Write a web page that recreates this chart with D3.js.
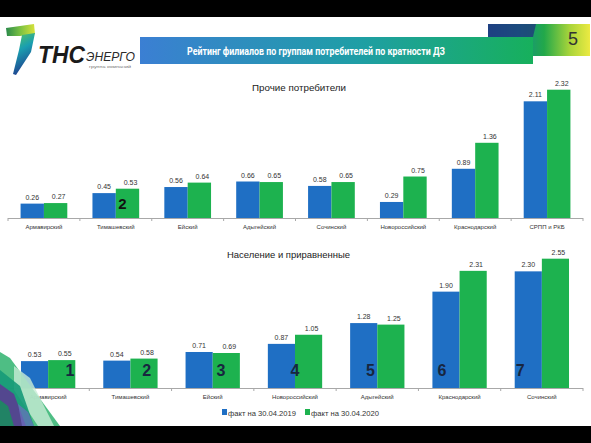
<!DOCTYPE html>
<html><head><meta charset="utf-8">
<script src="https://cdn.jsdelivr.net/npm/d3@7"></script>
<style>html,body{margin:0;padding:0;background:#fff;}svg{display:block;}</style>
</head><body>
<script>
// ---- data ----
const seriesNames = ["факт на 30.04.2019", "факт на 30.04.2020"];
const otherCategories = ["Армавирский","Тимашевский","Ейский","Адыгейский","Сочинский","Новороссийский","Краснодарский","СРПП и РКБ"];
const other2019 = [0.26,0.45,0.56,0.66,0.58,0.29,0.89,2.11];
const other2020 = [0.27,0.53,0.64,0.65,0.65,0.75,1.36,2.32];
const popCategories = ["Армавирский","Тимашевский","Ейский","Новороссийский","Адыгейский","Краснодарский","Сочинский"];
const pop2019 = [0.53,0.54,0.71,0.87,1.28,1.90,2.30];
const pop2020 = [0.55,0.58,0.69,1.05,1.25,2.31,2.55];
const popRanks = [1,2,3,4,5,6,7];
const otherRankLabel = {cat:"Тимашевский", rank:2};
const titleText = "Рейтинг филиалов по группам потребителей по кратности ДЗ";
const pageNumber = "5";

const W=591,H=443;
const BLUE="#1f6fc4", GREEN="#1db24f";
const svg=d3.select("body").append("svg").attr("width",W).attr("height",H);
const defs=svg.append("defs");
function grad(id,stops,x2=1,y2=0){const g=defs.append("linearGradient").attr("id",id).attr("x1",0).attr("y1",0).attr("x2",x2).attr("y2",y2);
 stops.forEach(s=>g.append("stop").attr("offset",s[0]).attr("stop-color",s[1]));}
grad("banner",[[0,"#3b7fd3"],[0.55,"#1f9ea6"],[1,"#17b05c"]]);
grad("corner",[[0,"#1a5aa0"],[0.3,"#12918a"],[0.55,"#22a84a"],[0.8,"#a8d43a"],[1,"#ecea42"]]);
grad("logoTop",[[0,"#2a8a4a"],[0.5,"#7cc242"],[1,"#d8e23a"]]);
grad("logoLeg",[[0,"#5cc65a"],[0.45,"#1a9fb0"],[1,"#1f3f8f"]],0.3,1);

svg.append("rect").attr("width",W).attr("height",H).attr("fill","#fff");

// ---- header ----
svg.append("polygon").attr("points","6,28 34,24 35,34 20,36 7,36").attr("fill","url(#logoTop)");
svg.append("polygon").attr("points","22,35 35,33 31,52 16,75 13,74 19,50").attr("fill","url(#logoLeg)");
svg.append("text").attr("x",38).attr("y",63).attr("font-family","Liberation Sans, Arial").attr("font-weight","bold").attr("font-style","italic")
 .attr("font-size",23).attr("fill","#1a1a1a").attr("textLength",47).attr("lengthAdjust","spacingAndGlyphs").text("ТНС");
svg.append("text").attr("x",86).attr("y",61).attr("font-family","Liberation Sans, Arial").attr("font-style","italic")
 .attr("font-size",12).attr("fill","#2a2a2a").attr("textLength",49).attr("lengthAdjust","spacingAndGlyphs").text("ЭНЕРГО");
svg.append("text").attr("x",89).attr("y",68).attr("font-family","Liberation Sans, Arial")
 .attr("font-size",3.5).attr("fill","#777").attr("textLength",42).attr("lengthAdjust","spacingAndGlyphs").text("группа компаний");

svg.append("polygon").attr("points","488,24 590,24 590,56 488,56").attr("fill","url(#corner)");
svg.append("polygon").attr("points","488,24 536,24 533,37 488,37").attr("fill","#1f3a7a").attr("opacity",0.8);
svg.append("text").attr("x",573).attr("y",45).attr("text-anchor","middle").attr("font-family","Liberation Sans Narrow, Liberation Sans, Arial")
 .attr("font-size",18).attr("fill","#333").text(pageNumber);
svg.append("rect").attr("x",140).attr("y",37).attr("width",393).attr("height",27).attr("fill","url(#banner)");
svg.append("text").attr("x",187).attr("y",55).attr("font-family","Liberation Sans Narrow, Roboto, Arial").attr("font-weight","bold")
 .attr("font-size",11.5).attr("fill","#fff").attr("textLength",258).attr("lengthAdjust","spacingAndGlyphs").text(titleText);

// ---- grouped bar chart helper ----
function drawChart(o){
 const g=svg.append("g");
 const x0=d3.scaleBand().domain(o.cats).range(o.xr).paddingInner(o.pi).paddingOuter(o.pi/2);
 const x1=d3.scaleBand().domain(seriesNames).range([0,x0.bandwidth()]);
 const y=d3.scaleLinear().domain(o.yd).range(o.yr);
 const rows=o.cats.map((c,i)=>({c,v:[o.a[i],o.b[i]]}));
 const grp=g.selectAll("g.c").data(rows).join("g").attr("transform",d=>`translate(${x0(d.c)},0)`);
 grp.selectAll("rect").data(d=>d.v.map((v,j)=>({s:seriesNames[j],v,j}))).join("rect")
  .attr("x",d=>x1(d.s)).attr("width",x1.bandwidth()).attr("y",d=>y(d.v)).attr("height",d=>y(0)-y(d.v))
  .attr("fill",d=>d.j?GREEN:BLUE);
 grp.selectAll("text.v").data(d=>d.v.map((v,j)=>({s:seriesNames[j],v,j}))).join("text").attr("class","v")
  .attr("x",d=>x1(d.s)+x1.bandwidth()/2+(d.j?3:0)).attr("y",d=>y(d.v)-4).attr("text-anchor","middle")
  .attr("font-family","Liberation Sans, Arial").attr("font-size",7).attr("fill","#333").text(d=>d.v.toFixed(2));
 const base=y(0);
 g.append("line").attr("x1",o.xr[0]).attr("x2",o.xr[1]).attr("y1",base+0.5).attr("y2",base+0.5).attr("stroke","#a8a8a8");
 const step=x0.step();
 const bounds=d3.range(o.cats.length+1).map(i=>o.xr[0]+i*step);
 g.selectAll("line.t").data(bounds).join("line").attr("x1",d=>d).attr("x2",d=>d).attr("y1",base).attr("y2",base+3).attr("stroke","#a8a8a8");
 g.selectAll("text.c").data(o.cats).join("text").attr("x",d=>x0(d)+x0.bandwidth()/2).attr("y",base+11).attr("text-anchor","middle")
  .attr("font-family","Liberation Sans, Arial").attr("font-size",6).attr("fill","#333").text(d=>d);
 g.append("text").attr("x",o.tx).attr("y",o.ty).attr("font-family","Liberation Sans, Arial").attr("font-size",9.5).attr("fill","#222")
  .attr("textLength",o.tl).attr("lengthAdjust","spacingAndGlyphs").text(o.title);
 return {x0,x1,y};
}

const chartTop=drawChart({cats:otherCategories,a:other2019,b:other2020,xr:[8,583],pi:0.35,yd:[0,2.5],yr:[218,79.75],
 tx:252,ty:91,tl:94,title:"Прочие потребители"});
const chartBot=drawChart({cats:popCategories,a:pop2019,b:pop2020,xr:[7,583],pi:0.34,yd:[0,2.8],yr:[388,246],
 tx:227,ty:258,tl:123,title:"Население и приравненные"});

svg.append("text").attr("x",chartTop.x0(otherRankLabel.cat)+chartTop.x1(seriesNames[1])+chartTop.x1.bandwidth()/2-5).attr("y",209)
 .attr("text-anchor","middle").attr("font-family","Liberation Sans, Arial").attr("font-weight","bold").attr("font-size",15).attr("fill","#111")
 .text(otherRankLabel.rank);
const rankSeries=[1,1,1,0,0,0,0];
const rankDx=[0.8,0.6,0.3,1.0,0.75,0.35,0.2];
popRanks.forEach((r,i)=>{
 const c=popCategories[i], s=seriesNames[rankSeries[i]];
 svg.append("text").attr("x",chartBot.x0(c)+chartBot.x1(s)+chartBot.x1.bandwidth()*rankDx[i]).attr("y",376).attr("text-anchor","middle")
  .attr("font-family","Liberation Sans, Arial").attr("font-weight","bold").attr("font-size",16).attr("fill","#18263f").text(r);
});

const lg=svg.append("g");
[[222,0],[305,1]].forEach(([x,j])=>{
 lg.append("rect").attr("x",x).attr("y",409).attr("width",5).attr("height",6).attr("fill",j?GREEN:BLUE);
 lg.append("text").attr("x",x+6).attr("y",415.5).attr("font-family","Liberation Sans, Arial").attr("font-size",7).attr("fill","#333")
  .attr("textLength",68).attr("lengthAdjust","spacingAndGlyphs").text(seriesNames[j]);
});

const deco=svg.append("g");
deco.append("polygon").attr("points","0,352 10,358 60,426 0,426").attr("fill","#2fb36f").attr("opacity",0.85);
deco.append("polygon").attr("points","14,366 30,378 54,426 38,426 14,390").attr("fill","#c8ecd6").attr("opacity",0.8);
deco.append("polygon").attr("points","0,370 20,386 34,426 0,426").attr("fill","#169a78").attr("opacity",0.9);
deco.append("polygon").attr("points","0,384 14,394 26,426 0,426").attr("fill","#5a3d91").attr("opacity",0.9);
deco.append("polygon").attr("points","0,400 8,406 14,426 0,426").attr("fill","#1c8a60").attr("opacity",0.9);
deco.append("polygon").attr("points","18,404 28,412 34,426 22,426").attr("fill","#6c6fc0").attr("opacity",0.7);

svg.append("rect").attr("x",0).attr("y",0).attr("width",W).attr("height",17).attr("fill","#000");
svg.append("rect").attr("x",0).attr("y",426).attr("width",W).attr("height",17).attr("fill","#000");
</script>
</body></html>
